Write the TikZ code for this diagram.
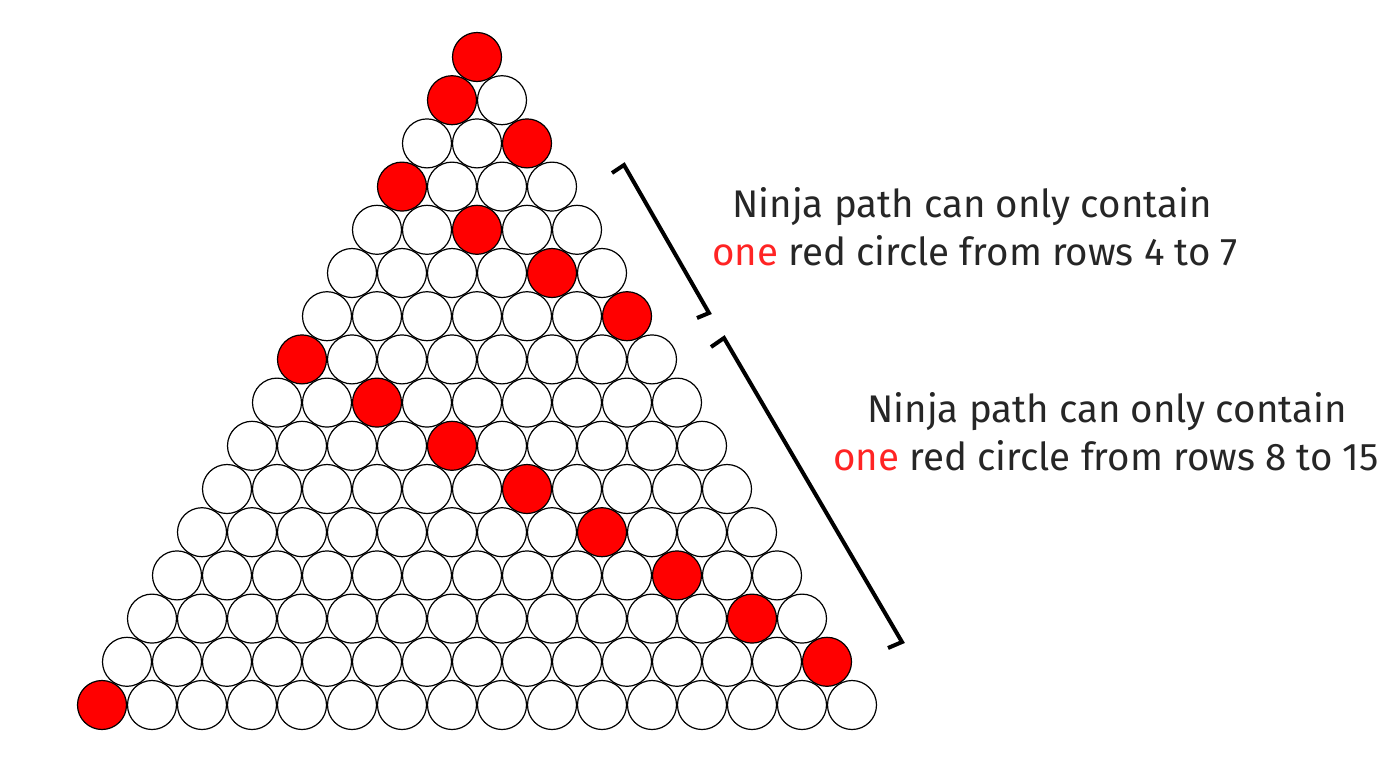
\documentclass[tikz,border=0pt]{standalone}
\usepackage{fontspec}
\setmainfont{Fira Sans}
\definecolor{txt}{HTML}{262626}
\definecolor{redtxt}{HTML}{FF2424}
\begin{document}
\begin{tikzpicture}[x=1pt,y=-1pt,
  ball/.style={circle,draw=black,line width=1.2pt,minimum size=49pt,inner sep=0pt},
  brace/.style={line width=4pt,line join=miter},
  lbl/.style={text=txt,font=\fontsize{38.5}{46}\selectfont,anchor=base,inner sep=0pt}]
\useasboundingbox (0,0) rectangle (1400,766);
\foreach \r/\rp in {0/0,1/0,2/2,3/0,4/2,5/4,6/6,7/0,8/2,9/4,10/6,11/8,12/10,13/12,14/14,15/0}{
  \foreach \p in {0,...,\r}{
    \ifnum\p=\rp\relax \def\fc{red}\else\def\fc{white}\fi
    \node[ball,fill=\fc] (c-\r-\p) at ({477+50*(\p-\r/2)},{57+43.2*\r}) {};
  }
}
% brackets
\coordinate (b1a) at (612,173);
\coordinate (b1b) at (624,165);
\coordinate (b1c) at (709,313);
\coordinate (b1d) at (697,318);
\draw[brace] (b1a) -- (b1b) -- (b1c) -- (b1d);
\coordinate (b2a) at (711,347);
\coordinate (b2b) at (724,338);
\coordinate (b2c) at (902,642);
\coordinate (b2d) at (888,648);
\draw[brace] (b2a) -- (b2b) -- (b2c) -- (b2d);
% labels
\node[lbl] (t1a) at (972,217) {Ninja path can only contain};
\node[lbl] (t1b) at (975,265) {\textcolor{redtxt}{one} red circle from rows 4 to 7};
\node[lbl] (t2a) at (1107,422) {Ninja path can only contain};
\node[lbl] (t2b) at (1106,470) {\textcolor{redtxt}{one} red circle from rows 8 to 15};
\end{tikzpicture}
\end{document}
